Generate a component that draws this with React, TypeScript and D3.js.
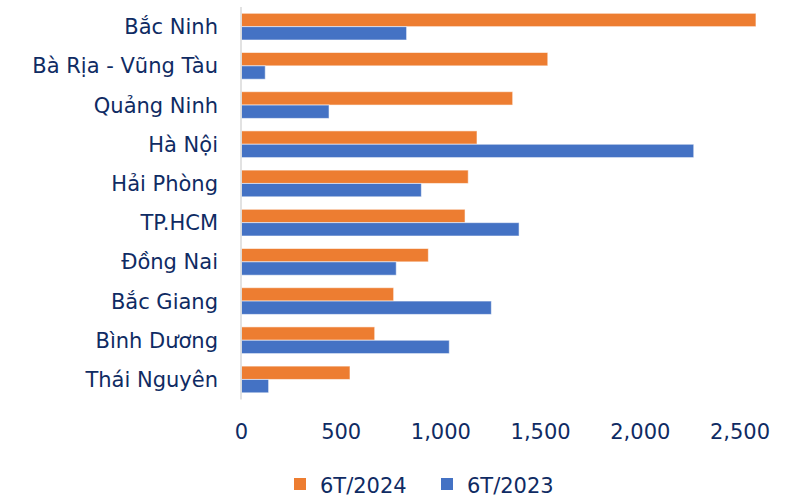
import React from "react";
import * as d3 from "d3";

const categories = [
  "Bắc Ninh",
  "Bà Rịa - Vũng Tàu",
  "Quảng Ninh",
  "Hà Nội",
  "Hải Phòng",
  "TP.HCM",
  "Đồng Nai",
  "Bắc Giang",
  "Bình Dương",
  "Thái Nguyên",
];
const series2024 = [2580, 1536, 1360, 1181, 1137, 1121, 937, 763, 668, 544];
const series2023 = [828, 119, 439, 2268, 902, 1392, 776, 1253, 1042, 136];
const seriesNames = ["6T/2024", "6T/2023"];
const seriesColors = ["#ED7D31", "#4472C4"];
const tickValues = [0, 500, 1000, 1500, 2000, 2500];

const W = 802;
const H = 499;
const FONT = "'DejaVu Sans', Verdana, sans-serif";
const TEXT = "#0F2B63";

export default function App() {
  const x = d3.scaleLinear().domain([0, 2500]).range([241.5, 740]);
  const y = d3
    .scaleBand<string>()
    .domain(categories)
    .range([7.05, 399.05])
    .paddingInner(0.319)
    .paddingOuter(0.1595);
  const inner = d3
    .scaleBand<string>()
    .domain(seriesNames)
    .range([0, y.bandwidth()])
    .padding(0);
  const fmt = d3.format(",");
  const data = [series2024, series2023];

  return (
    <svg
      width={W}
      height={H}
      style={{ position: "absolute", left: 0, top: 0, background: "#fff" }}
      fontFamily={FONT}
    >
      <rect x={0} y={0} width={W} height={H} fill="#fff" />
      {categories.map((c, i) => (
        <g key={c}>
          {data.map((s, k) => (
            <rect
              key={k}
              x={x(0)}
              y={(y(c) as number) + (inner(seriesNames[k]) as number)}
              width={x(s[i]) - x(0)}
              height={inner.bandwidth()}
              fill={seriesColors[k]}
              stroke="#ffffff"
              strokeOpacity={0.55}
              strokeWidth={1}
            />
          ))}
          <text
            x={218}
            y={(y(c) as number) + y.bandwidth() / 2 + 7.6}
            textAnchor="end"
            fontSize={21}
            fill={TEXT}
          >
            {c}
          </text>
        </g>
      ))}
      <line
        x1={241}
        x2={241}
        y1={7}
        y2={399.5}
        stroke="#D9D9D9"
        strokeWidth={1.5}
      />
      {tickValues.map((t) => (
        <text
          key={t}
          x={x(t)}
          y={439}
          textAnchor="middle"
          fontSize={21}
          fill={TEXT}
        >
          {fmt(t)}
        </text>
      ))}
      <rect x={294} y={478} width={12} height={12} fill={seriesColors[0]} />
      <text x={320} y={493} fontSize={21} fill={TEXT}>
        {seriesNames[0]}
      </text>
      <rect x={441} y={478} width={12} height={12} fill={seriesColors[1]} />
      <text x={467} y={493} fontSize={21} fill={TEXT}>
        {seriesNames[1]}
      </text>
    </svg>
  );
}
